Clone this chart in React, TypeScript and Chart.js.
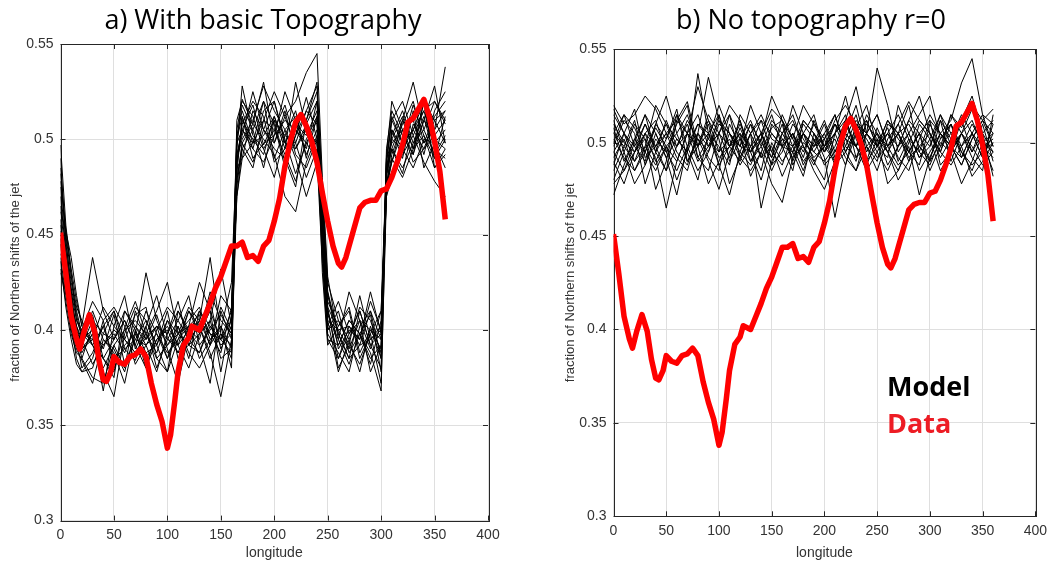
import React, { useEffect, useRef } from "react";
import { Chart, registerables } from "chart.js";

Chart.register(...registerables);

// ---------- data ----------
const X_TICKS = [0, 50, 100, 150, 200, 250, 300, 350, 400];
const Y_TICKS = [0.3, 0.35, 0.4, 0.45, 0.5, 0.55];

// observed data (red), longitude / fraction
const DATA_LON = [0,5,10,15,18,22,27,32,36,40,43,47,50,55,60,65,70,75,80,85,90,95,100,103,107,110,115,120,123,130,135,140,145,150,155,160,165,170,175,180,185,190,195,200,205,210,215,220,225,230,235,240,245,250,255,260,263,267,270,275,280,285,290,295,300,305,310,315,320,325,330,335,340,345,350,355,360];
const DATA_VAL = [0.451,0.430,0.407,0.395,0.390,0.399,0.408,0.399,0.384,0.374,0.373,0.378,0.386,0.383,0.382,0.386,0.387,0.390,0.386,0.372,0.361,0.352,0.338,0.345,0.363,0.378,0.392,0.396,0.402,0.400,0.407,0.414,0.422,0.428,0.436,0.444,0.444,0.446,0.438,0.439,0.436,0.444,0.447,0.457,0.469,0.486,0.499,0.509,0.513,0.507,0.499,0.488,0.472,0.457,0.444,0.435,0.433,0.438,0.444,0.454,0.464,0.467,0.468,0.468,0.473,0.474,0.480,0.488,0.497,0.509,0.511,0.516,0.521,0.512,0.499,0.483,0.458];

// panel a model runs (values in thousandths)
const LON_A = [0,5,10,15,20,30,40,50,60,70,80,90,100,110,120,130,140,150,160,165,170,180,190,200,210,220,230,240,245,250,260,270,280,290,300,305,310,320,330,340,350,360];
const A01 = [497,455,430,405,398,392,385,378,401,415,398,388,405,392,410,398,420,405,398,492,505,518,497,510,488,502,515,528,470,420,398,385,410,392,380,480,500,512,495,520,505,538];
const A02 = [482,448,420,398,385,375,372,392,380,410,395,402,385,398,412,405,392,418,410,505,521,508,530,498,512,495,508,520,455,410,385,402,395,420,398,490,512,498,518,502,490,512];
const A03 = [470,440,415,402,392,405,398,410,390,384,402,418,396,388,402,425,410,395,388,478,498,488,505,520,500,482,498,510,462,405,378,395,412,405,388,475,488,505,492,510,528,498];
const A04 = [462,452,438,418,402,438,410,395,405,392,380,400,412,405,395,388,405,432,402,500,512,495,488,502,525,510,492,505,448,400,410,388,398,382,405,485,495,482,508,498,512,520];
const A05 = [455,430,410,395,388,398,368,402,395,408,412,385,378,410,398,392,372,410,395,488,508,520,512,488,495,530,505,498,465,415,402,410,385,398,372,470,505,490,515,485,498,505];
const A06 = [445,425,412,400,392,410,395,388,372,398,430,405,392,402,385,410,398,388,412,470,495,505,485,510,502,515,490,512,452,408,395,420,405,390,410,488,510,520,502,515,495,490];
const A07 = [438,418,405,395,380,388,402,410,395,388,398,410,425,398,402,385,395,400,425,495,528,502,495,505,518,498,480,495,440,398,388,378,402,410,395,482,495,510,530,505,492,502];
const A08 = [490,445,425,410,398,395,385,375,410,402,392,378,398,415,392,405,438,398,385,485,490,515,505,495,490,475,510,530,475,425,405,395,378,402,385,492,520,505,488,495,510,515];
const A09 = [450,438,422,408,395,382,392,398,388,402,395,408,390,372,398,410,402,392,398,502,515,498,520,508,485,502,522,500,445,395,392,405,398,388,368,478,482,498,505,520,485,495];
const A10 = [475,442,418,392,400,415,405,380,392,398,385,395,402,392,380,398,410,378,408,490,500,510,528,515,505,490,470,488,458,412,380,392,418,395,402,485,502,515,498,505,520,508];
const A11 = [432,415,398,388,385,402,378,365,398,412,405,392,410,385,395,402,388,365,395,482,512,490,498,502,510,505,495,520,468,418,398,385,392,410,385,490,498,505,510,492,515,525];
const A12 = [465,435,408,398,390,395,412,402,418,390,402,380,395,405,418,392,400,408,398,498,505,495,515,520,498,508,502,515,450,402,415,398,405,378,392,472,490,480,495,510,500,495];
const A13 = [458,428,402,385,378,380,398,395,405,392,410,398,385,402,388,380,392,402,390,510,520,512,495,480,502,498,515,508,430,392,402,412,388,400,390,480,505,495,485,500,498,485];
const A14 = [440,430,415,402,395,400,390,408,382,395,392,402,398,410,400,395,415,390,402,475,498,508,500,492,470,462,488,502,460,420,390,400,395,415,400,470,480,492,502,488,478,470];
const A15 = [485,450,428,412,405,392,380,392,400,405,398,385,392,398,405,412,395,402,380,480,495,485,510,525,512,520,535,545,480,428,395,382,398,408,378,488,510,498,505,515,520,510];
const A16 = [448,420,400,390,384,372,395,390,378,400,388,392,405,398,392,388,402,395,405,492,502,525,505,498,515,492,485,500,442,400,405,392,382,398,410,476,492,508,520,498,505,515];
const A17 = [436,412,395,382,378,385,405,412,402,382,392,398,388,395,410,402,385,398,392,486,510,500,492,512,495,505,498,490,435,395,385,398,410,392,398,482,495,485,498,512,490,500];
const A18 = [478,452,432,415,402,392,402,385,390,395,405,392,378,395,402,408,392,412,400,500,518,505,520,490,505,512,510,525,468,410,392,405,398,385,392,495,515,502,492,520,510,498];
const A19 = [452,440,420,405,400,408,385,395,410,400,380,395,400,388,392,398,405,385,390,470,490,498,510,505,492,478,500,512,452,405,400,390,405,400,395,478,488,510,495,502,485,492];
const A20 = [430,420,408,396,390,398,392,400,395,388,396,402,395,392,400,405,398,395,410,488,505,498,502,512,498,495,505,498,455,412,400,402,392,395,400,484,500,495,505,495,502,510];
const MODEL_A = [A01,A02,A03,A04,A05,A06,A07,A08,A09,A10,A11,A12,A13,A14,A15,A16,A17,A18,A19,A20];

// panel b model runs (values in thousandths)
const LON_B = [0,10,20,30,40,50,60,70,80,90,100,110,120,130,140,150,160,170,180,190,200,210,220,230,240,250,260,270,280,290,300,310,320,330,340,350,360];
const B01 = [505,498,512,488,502,495,510,520,492,485,505,498,512,490,502,515,498,505,488,500,512,495,505,520,498,485,502,510,495,505,498,512,490,505,518,500,495];
const B02 = [480,495,510,502,475,490,515,505,498,510,488,472,495,510,500,492,505,515,498,490,480,505,512,498,490,508,495,485,500,512,505,495,510,498,505,492,510];
const B03 = [515,505,490,498,520,510,495,488,505,535,512,498,505,482,495,508,512,490,505,498,502,510,495,485,505,515,498,505,520,495,488,502,510,495,485,500,505];
const B04 = [495,485,500,515,505,492,472,498,510,502,495,515,492,505,465,490,502,498,512,505,492,460,488,505,512,498,508,490,502,495,512,505,498,488,502,512,498];
const B05 = [472,488,502,495,510,525,505,490,498,505,515,490,502,512,498,485,498,505,492,512,498,505,525,502,490,498,512,505,495,488,510,498,515,505,495,510,490];
const B06 = [510,500,495,505,490,502,515,498,485,495,510,505,498,520,505,495,510,488,500,495,505,490,498,512,505,495,485,498,512,505,490,500,495,512,525,505,512];
const B07 = [498,512,505,478,495,512,498,505,530,512,495,502,488,498,512,505,498,495,510,502,488,495,510,498,505,540,520,495,505,492,502,515,498,492,505,498,502];
const B08 = [488,505,498,510,495,485,498,512,502,490,475,495,505,498,485,510,502,492,505,515,495,510,502,490,512,498,505,515,502,485,495,505,512,532,545,515,498];
const B09 = [502,492,485,495,508,498,490,505,515,498,505,492,508,495,502,488,505,512,498,488,502,515,495,505,488,502,495,505,490,510,502,485,495,505,498,488,495];
const B10 = [518,505,495,510,498,505,492,485,505,498,512,505,495,488,502,525,512,498,505,490,498,505,515,492,498,505,488,498,512,525,505,492,502,515,505,492,505];
const B11 = [490,478,495,505,498,510,502,495,480,505,498,488,515,505,492,498,482,495,505,498,510,492,502,498,515,505,495,480,490,498,505,495,488,498,510,500,485];
const B12 = [500,515,508,495,485,498,505,515,498,512,502,478,492,505,512,495,488,505,495,510,502,488,495,508,520,498,505,492,485,502,515,505,498,505,492,485,515];
const B13 = [485,498,490,505,512,495,485,498,505,492,485,510,498,495,505,492,515,502,490,498,505,515,498,492,505,498,512,502,495,505,485,498,505,512,495,505,482];
const B14 = [508,490,502,515,495,505,498,510,492,502,520,505,498,510,492,505,498,485,512,505,495,502,488,510,502,492,498,505,510,498,492,505,498,488,502,512,505];
const B15 = [495,505,518,492,498,485,512,505,490,498,505,515,502,490,498,512,505,495,482,505,498,490,505,498,485,495,505,498,505,492,498,515,505,495,488,495,500];
const B16 = [512,495,478,488,505,492,502,495,510,505,492,498,510,498,505,488,495,510,502,492,498,510,502,515,495,505,498,488,495,505,512,488,495,505,512,498,492];
const B17 = [478,485,495,502,492,465,490,505,498,478,490,505,492,485,495,478,468,492,498,485,475,490,505,498,510,502,478,485,498,472,492,505,495,478,490,505,495];
const B18 = [520,510,515,525,518,505,512,522,498,515,505,520,512,495,505,518,512,502,520,510,498,512,520,510,505,515,498,510,522,512,505,495,515,508,520,512,518];
const B19 = [492,502,485,498,488,498,480,495,537,505,488,498,502,495,480,500,490,498,485,502,495,505,492,485,498,490,510,505,492,498,490,512,502,498,482,490,500];
const B20 = [505,515,498,490,510,502,518,490,502,495,515,498,490,505,515,502,498,520,505,495,490,498,512,530,505,498,492,520,505,515,525,502,510,492,505,515,510];
const MODEL_B = [B01,B02,B03,B04,B05,B06,B07,B08,B09,B10,B11,B12,B13,B14,B15,B16,B17,B18,B19,B20];

// ---------- styling ----------
const FONT = "'Liberation Sans', Arial, Helvetica, sans-serif";
const TEXT = "#333333";
const GRID = "#dfdfdf";
const AXIS = "#262626";

const boxPlugin = {
  id: "matlabBox",
  beforeDatasetsDraw(chart: any) {
    const { ctx, chartArea } = chart;
    const { left, right, top, bottom } = chartArea;
    const xs = chart.scales.x;
    const ys = chart.scales.y;
    ctx.save();
    ctx.strokeStyle = AXIS;
    ctx.lineWidth = 1;
    ctx.beginPath();
    xs.ticks.forEach((t: any) => {
      const px = Math.round(xs.getPixelForValue(t.value)) + 0.5;
      ctx.moveTo(px, bottom);
      ctx.lineTo(px, bottom - 5);
      ctx.moveTo(px, top);
      ctx.lineTo(px, top + 5);
    });
    ys.ticks.forEach((t: any) => {
      const py = Math.round(ys.getPixelForValue(t.value)) + 0.5;
      ctx.moveTo(left, py);
      ctx.lineTo(left + 5, py);
      ctx.moveTo(right, py);
      ctx.lineTo(right - 5, py);
    });
    ctx.stroke();
    ctx.strokeRect(Math.round(left) + 0.5, Math.round(top) + 0.5, Math.round(right - left), Math.round(bottom - top));
    ctx.restore();
  },
};

function buildConfig(lon: number[], runs: number[][], pad: { top: number; right: number }, yWidth: number, xHeight: number) {
  const datasets: any[] = [
    {
      data: DATA_LON.map((x, i) => ({ x, y: DATA_VAL[i] })),
      borderColor: "#ff0000",
      borderWidth: 5.5,
      borderJoinStyle: "round",
      pointRadius: 0,
      order: 0,
    },
  ];
  runs.forEach((run) => {
    datasets.push({
      data: lon.map((x, i) => ({ x, y: run[i] / 1000 })),
      borderColor: "#000000",
      borderWidth: 1,
      pointRadius: 0,
      order: 1,
    });
  });
  return {
    type: "line" as const,
    data: { datasets },
    options: {
      responsive: false,
      animation: false,
      devicePixelRatio: 1,
      layout: { padding: { top: pad.top, right: pad.right, left: 0, bottom: 0 } },
      plugins: { legend: { display: false }, tooltip: { enabled: false }, title: { display: false } },
      elements: { line: { tension: 0 }, point: { radius: 0 } },
      scales: {
        x: {
          type: "linear",
          min: 0,
          max: 400,
          afterBuildTicks: (s: any) => {
            s.ticks = X_TICKS.map((v) => ({ value: v }));
          },
          ticks: { autoSkip: false, maxRotation: 0, padding: 6, color: TEXT, font: { family: FONT, size: 14 } },
          grid: { color: GRID, drawTicks: false, lineWidth: 1 },
          border: { display: false },
          title: { display: true, text: "longitude", color: TEXT, font: { family: FONT, size: 14 }, padding: { top: 0, bottom: 2 } },
          afterFit: (s: any) => {
            s.height = xHeight;
          },
        },
        y: {
          type: "linear",
          min: 0.3,
          max: 0.55,
          afterBuildTicks: (s: any) => {
            s.ticks = Y_TICKS.map((v) => ({ value: v }));
          },
          ticks: {
            autoSkip: false,
            padding: 7,
            color: TEXT,
            font: { family: FONT, size: 14 },
            callback: (v: any) => String(+Number(v).toFixed(2)),
          },
          grid: { color: GRID, drawTicks: false, lineWidth: 1 },
          border: { display: false },
          title: { display: true, text: "fraction of Northern shifts of the jet", color: TEXT, font: { family: FONT, size: 13 }, padding: { top: 8, bottom: 0 } },
          afterFit: (s: any) => {
            s.width = yWidth;
          },
        },
      },
    },
    plugins: [boxPlugin],
  };
}

function Panel(props: { left: number; width: number; lon: number[]; runs: number[][]; top: number; right: number; yWidth: number; xHeight: number }) {
  const ref = useRef<HTMLCanvasElement | null>(null);
  useEffect(() => {
    if (!ref.current) return;
    const chart = new Chart(ref.current, buildConfig(props.lon, props.runs, { top: props.top, right: props.right }, props.yWidth, props.xHeight) as any);
    return () => chart.destroy();
  }, []);
  return (
    <canvas
      ref={ref}
      width={props.width}
      height={564}
      style={{ position: "absolute", left: props.left, top: 0, width: props.width, height: 564 }}
    />
  );
}

const titleStyle: React.CSSProperties = {
  position: "absolute",
  width: 500,
  textAlign: "center",
  fontFamily: "'Open Sans', 'Noto Sans', sans-serif",
  fontSize: 27,
  lineHeight: "30px",
  color: "#000",
  whiteSpace: "nowrap",
};

const legendStyle: React.CSSProperties = {
  position: "absolute",
  left: 887,
  fontFamily: "'Open Sans', 'Noto Sans', sans-serif",
  fontWeight: 700,
  fontSize: 27,
  lineHeight: "30px",
  whiteSpace: "nowrap",
};

export default function App() {
  return (
    <div style={{ position: "fixed", left: 0, top: 0, width: 1053, height: 564, background: "#fff", overflow: "hidden" }}>
      <Panel left={0} width={520} lon={LON_A} runs={MODEL_A} top={44} right={32} yWidth={60.5} xHeight={43.4} />
      <Panel left={555} width={498} lon={LON_B} runs={MODEL_B} top={49.3} right={12} yWidth={58.5} xHeight={47.7} />
      <div style={{ ...titleStyle, left: 263 - 250, top: 4 }}>a) With basic Topography</div>
      <div style={{ ...titleStyle, left: 811 - 250, top: 4 }}>b) No topography r=0</div>
      <div style={{ ...legendStyle, top: 371, color: "#000" }}>Model</div>
      <div style={{ ...legendStyle, top: 408, color: "#ed1c24" }}>Data</div>
    </div>
  );
}
